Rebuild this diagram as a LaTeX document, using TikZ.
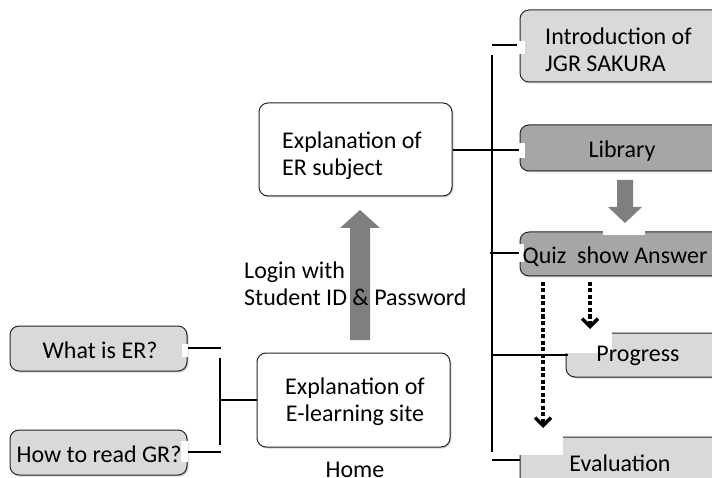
\documentclass[tikz,border=0pt]{standalone}
\usepackage{fontspec}
\setmainfont{Carlito}
\usetikzlibrary{arrows.meta,shadows}
\definecolor{lightbox}{HTML}{D9D9D9}
\definecolor{darkbox}{HTML}{A6A6A6}
\definecolor{arrowgray}{HTML}{7F7F7F}
\begin{document}
\begin{tikzpicture}[x=1pt,y=-1pt,
  txt/.style={font=\fontsize{24}{27}\selectfont, inner sep=0pt, align=center},
  boxbase/.style={draw=black!85, line width=1pt, rounded corners=9pt, inner sep=0pt,
     drop shadow={shadow xshift=1.5pt, shadow yshift=-1.5pt, opacity=0.35}},
  whitebox/.style={boxbase, fill=white},
  lightbx/.style={boxbase, fill=lightbox},
  darkbx/.style={boxbase, fill=darkbox},
  link/.style={draw=black, line width=2.5pt},
  dotarrow/.style={draw=black, line width=4pt, dash pattern=on 4pt off 2.5pt,
     -{Straight Barb[length=8pt,width=16pt,line width=3.5pt]}},
  bigarrow/.style={fill=arrowgray, draw=none}
]
\useasboundingbox[fill=white] (0,0) rectangle (712,478);

% ---- right column boxes
\node[lightbx, minimum width=204, minimum height=72] (intro) at (622,46) {};
\node[darkbx, minimum width=204, minimum height=46] (lib) at (622,148) {};
\node[darkbx, minimum width=204, minimum height=44] (quiz) at (622,254) {};
\node[lightbx, minimum width=158, minimum height=44] (prog) at (645,355) {};
\node[lightbx, minimum width=204, minimum height=60] (eval) at (622,467) {};

% ---- middle boxes
\node[whitebox, minimum width=193, minimum height=93] (ersub) at (355.5,149.5) {};
\node[whitebox, minimum width=193, minimum height=94] (elearn) at (353.5,400) {};

% ---- left boxes
\node[lightbx, minimum width=177, minimum height=45] (what) at (98.5,348.5) {};
\node[lightbx, minimum width=177, minimum height=45] (how) at (98.5,452.5) {};

% ---- big gray arrows
\coordinate (uptip) at (360,210);
\fill[bigarrow] (350,340) -- (350,228) -- (340,228) -- (uptip) -- (380,228) -- (370,228) -- (370,340) -- cycle;
\coordinate (dntip) at (625,223);
\fill[bigarrow] (617,180) -- (617,207) -- (608,207) -- (dntip) -- (642,207) -- (633,207) -- (633,180) -- cycle;

% ---- connector bracket (right)
\coordinate (rtop) at (492,55);
\coordinate (rbot) at (492,452);
\draw[link] (rtop) -- (rbot);
\draw[link] (492,45) -- (intro.west |- 0,45);
\draw[link] (ersub.east |- 0,150) -- (lib.west |- 0,150);
\draw[link] (490,253) -- (quiz.west |- 0,253);
\draw[link] (492,355) -- (568,355);
\draw[link] (492,460) -- (eval.west |- 0,460);

% ---- connector bracket (left)
\coordinate (lj) at (220,400);
\draw[link] (what.east |- 0,348) -- (221,348);
\draw[link] (220,358) -- (220,445);
\draw[link] (lj) -- (elearn.west |- lj);
\draw[link] (how.east |- 0,452) -- (221,452);

% ---- white patches
\fill[white] (517,41) rectangle (525,54);
\fill[white] (519,143) rectangle (525,158);
\fill[white] (603,228) rectangle (645,235);
\fill[white] (519,244) rectangle (524,262);
\fill[white] (564,330) rectangle (612,353);
\fill[white] (517,434) rectangle (563,455);
\fill[white] (182,344) rectangle (188,357);
\fill[white] (181,441) rectangle (188,462);

% ---- dotted arrows
\coordinate (q1) at (543,282);
\coordinate (e1) at (543,428);
\coordinate (q2) at (590,282);
\coordinate (p1) at (590,329);
\draw[dotarrow] (q1) -- (e1);
\draw[dotarrow] (q2) -- (p1);

% ---- texts
\node[txt, align=left, anchor=west] (introt) at (545,50) {Introduction of\\JGR SAKURA};
\node[txt] (libt) at (622,151) {Library};
\node[txt] (quizt) at (615,257) {Quiz\ \ show Answer};
\node[txt] (progt) at (638,356) {Progress};
\node[txt] (evalt) at (620,463) {Evaluation};
\node[txt, align=left] (ersubt) at (352,156) {Explanation of\\ER subject};
\node[txt] (elearnt) at (355,402) {Explanation of\\E-learning site};
\node[txt, anchor=base] (home) at (355,477) {Home};
\node[txt, align=left, anchor=west] (login) at (244,284) {Login with\\Student ID \& Password};
\node[txt] (whatt) at (100,350) {What is ER?};
\node[txt] (howt) at (99,454) {How to read GR?};
\end{tikzpicture}
\end{document}
